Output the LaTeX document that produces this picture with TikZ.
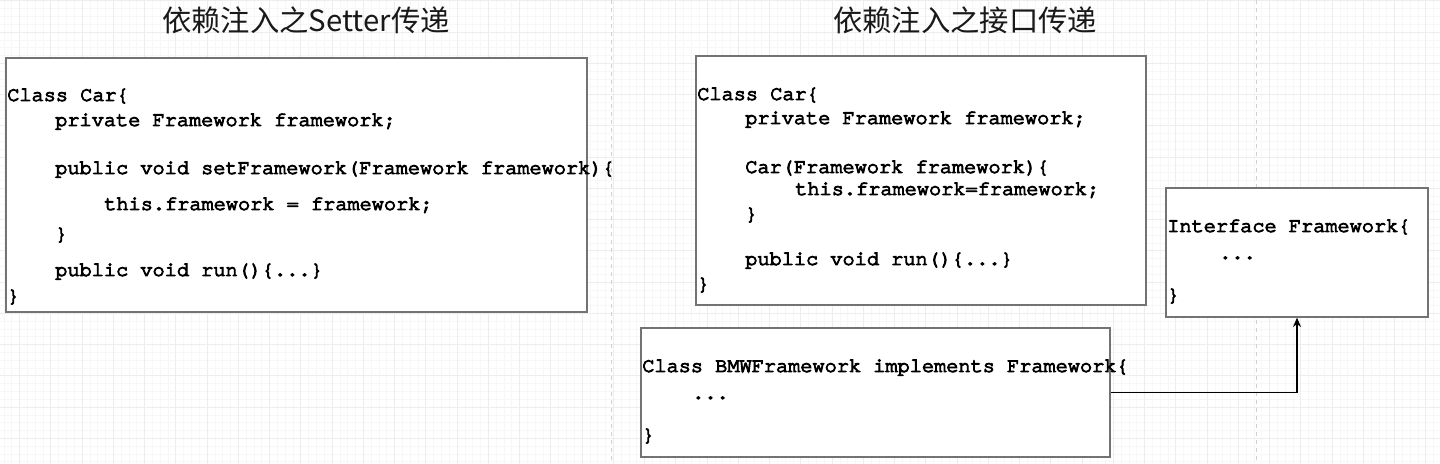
\documentclass[tikz,border=0pt]{standalone}
\usepackage{fontspec}
\setmainfont{Liberation Sans}
\newfontfamily\codefont{texgyrecursor-regular.otf}[FakeBold=5]
\newfontfamily\cjk{Noto Sans CJK SC}
\usetikzlibrary{arrows.meta,fit,shadows}
\tikzset{
  gridminor/.style={draw=black!3, line width=0.4pt},
  gridmajor/.style={draw=black!7, line width=0.6pt},
  pageline/.style={draw=black!18, dashed, dash pattern=on 3pt off 3pt, line width=0.6pt},
  box/.style={draw=black!55, fill=white, line width=1pt, inner sep=0pt,
    drop shadow={shadow xshift=1pt, shadow yshift=-1pt, opacity=0.25, fill=black}},
  code/.style={font=\codefont\fontsize{15.2}{18}\selectfont, inner sep=0pt, anchor=mid west, text=black, yshift=-1.8pt},
  title/.style={font=\cjk\fontsize{22}{26}\selectfont, inner sep=0pt, text=black!90},
  conn/.style={draw=black, line width=1pt, -{Stealth[length=7pt,width=6pt]}}
}
\begin{document}
\begin{tikzpicture}[x=0.75pt,y=-0.75pt]
\useasboundingbox (0,0) rectangle (1440,464);
\fill[white] (0,0) rectangle (1440,464);
\begin{scope}
\clip (0,0) rectangle (1440,464);
\foreach \i in {0,...,186} \draw[gridminor] ({-3.94+7.8125*\i},0) -- ++(0,464);
\foreach \j in {0,...,60} \draw[gridminor] (0,{0.75+7.8125*\j}) -- ++(1440,0);
\foreach \i in {0,...,46} \draw[gridmajor] ({19.5+31.25*\i},0) -- ++(0,464);
\foreach \j in {0,...,15} \draw[gridmajor] (0,{0.75+31.25*\j}) -- ++(1440,0);
\draw[pageline] (611,0) -- (611,464);
\draw[pageline] (1256,0) -- (1256,464);
\end{scope}

% titles
\node[title] (t1) at (306,20) {依赖注入之Setter传递};
\node[title] (t2) at (965,20) {依赖注入之接口传递};

% boxes
\node[box, fit={(6,58) (587,312)}] (car1) {};
\node[box, fit={(696,56) (1146,305)}] (car2) {};
\node[box, fit={(1166,188) (1428,317)}] (intf) {};
\node[box, fit={(641,328) (1110,457)}] (bmw) {};

% box 1 text
\node[code] (a1) at (7,95) {Class Car\{};
\node[code] (a2) at (55,120) {private Framework framework;};
\node[code] (a3) at (55,168) {public void setFramework(Framework framework)\{};
\node[code] (a4) at (104,204) {this.framework = framework;};
\node[code] (a5) at (55,234) {\}};
\node[code] (a6) at (55,270) {public void run()\{...\}};
\node[code] (a7) at (7,296) {\}};

% box 2 text
\node[code] (b1) at (697,94) {Class Car\{};
\node[code] (b2) at (745,118) {private Framework framework;};
\node[code] (b3) at (745,167) {Car(Framework framework)\{};
\node[code] (b4) at (795,189) {this.framework=framework;};
\node[code] (b5) at (745,214) {\}};
\node[code] (b6) at (745,259) {public void run()\{...\}};
\node[code] (b7) at (697,284) {\}};

% box 3 text
\node[code] (c1) at (1167,226) {Interface Framework\{};
\node[code] (c2) at (1219,253) {...};
\node[code] (c3) at (1167,295) {\}};

% box 4 text
\node[code] (d1) at (642,366) {Class BMWFramework implements Framework\{};
\node[code] (d2) at (692,393) {...};
\node[code] (d3) at (642,435) {\}};

% connector
\draw[conn] (bmw.east) -| (intf.south);
\end{tikzpicture}
\end{document}
